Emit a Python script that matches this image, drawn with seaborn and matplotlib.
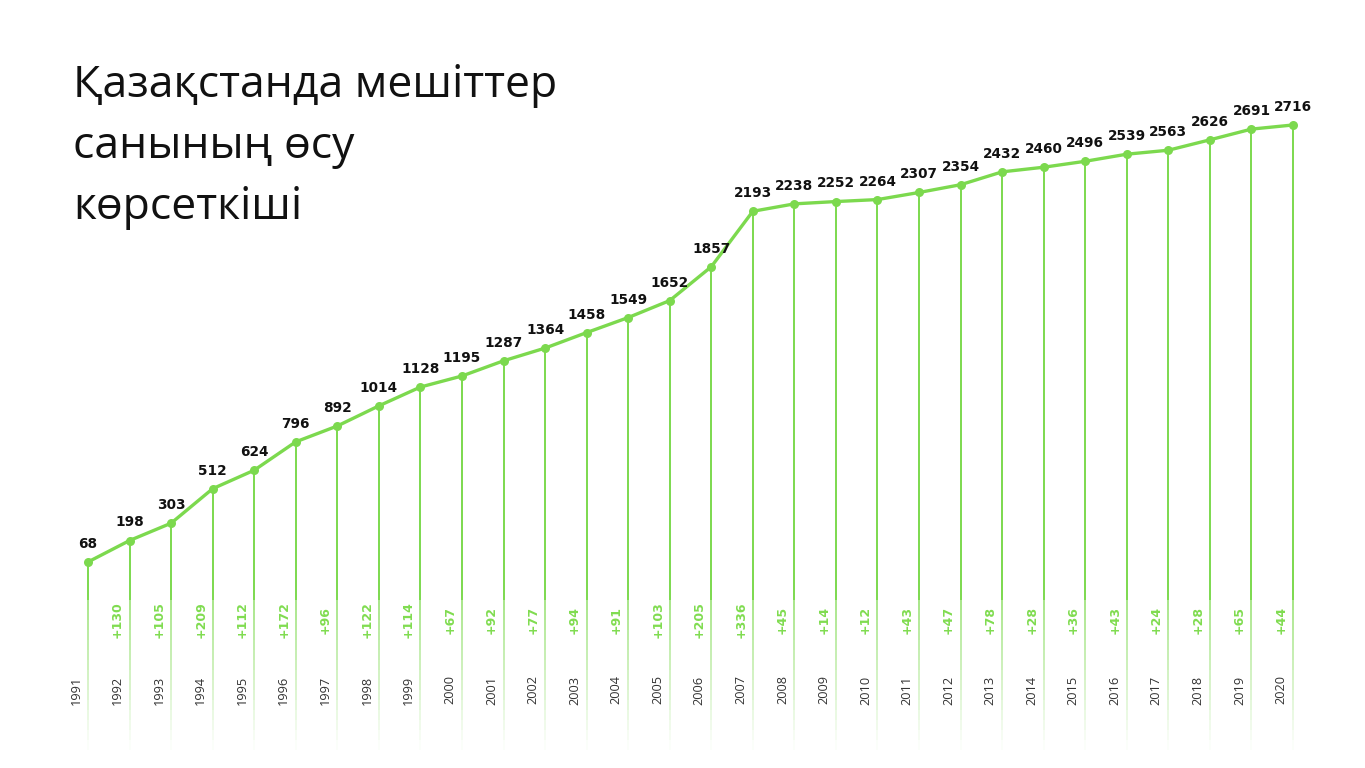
import matplotlib
matplotlib.use("Agg")
import matplotlib.pyplot as plt
import seaborn as sns
import pandas as pd
import numpy as np

years = list(range(1991, 2021))
mosques = [68, 198, 303, 512, 624, 796, 892, 1014, 1128, 1195, 1287, 1364, 1458,
           1549, 1652, 1857, 2193, 2238, 2252, 2264, 2307, 2354, 2432, 2460, 2496,
           2539, 2563, 2626, 2691, 2716]
increments = [130, 105, 209, 112, 172, 96, 122, 114, 67, 92, 77, 94, 91, 103, 205,
              336, 45, 14, 12, 43, 47, 78, 28, 36, 43, 24, 28, 65, 44]
title = "Қазақстанда мешіттер\nсанының өсу\nкөрсеткіші"

GREEN = "#7cd94e"
INC_GREEN = "#80dc50"

sns.set_theme(style="white")
plt.rcParams['font.family'] = ['Open Sans', 'DejaVu Sans']

df = pd.DataFrame({"year": years, "count": mosques})

W, H = 1365, 768
fig = plt.figure(figsize=(W / 100, H / 100), dpi=100)
ax = fig.add_axes([0, 0, 1, 1])

# pixel mapping helpers
x0px, x1px = 88, 1293
pxy = (x1px - x0px) / (years[-1] - years[0])
xl = years[0] - x0px / pxy
xr = years[-1] + (W - x1px) / pxy
zero_px = 573.2
scale = (562 - 125) / (2716 - 68)
def v_at(py):
    return (zero_px - py) / scale
ax.set_xlim(xl, xr)
ax.set_ylim(v_at(H), v_at(0))
ax.axis("off")

# vertical drop lines, solid then fading
for yr, v in zip(years, mosques):
    ax.vlines(yr, v_at(600), v, color=GREEN, lw=1.4, zorder=2)
    edges = np.linspace(600, 750, 16)
    for i in range(len(edges) - 1):
        a = 1 - (i + 0.5) / (len(edges) - 1)
        ax.vlines(yr, v_at(edges[i + 1]), v_at(edges[i]), color=GREEN,
                  lw=1.2, alpha=a * 0.8, zorder=2)

sns.lineplot(data=df, x="year", y="count", ax=ax, color=GREEN, lw=2.4,
             marker="o", markersize=6.5, markeredgewidth=0, zorder=3)

off = 12 / pxy
for yr, v in zip(years, mosques):
    ax.annotate(str(v), (yr, v), xytext=(0, 13), textcoords="offset points",
                ha="center", va="center", fontsize=9.8, fontweight="bold",
                color="#111111", family=["DejaVu Sans"])
    ax.text(yr - off, v_at(690), str(yr), rotation=90, ha="center", va="center",
            fontsize=9.2, color="#333333")
for yr, d in zip(years[1:], increments):
    ax.text(yr - off, v_at(620), f"+{d}", rotation=90, ha="center", va="center",
            fontsize=9, fontweight="bold", color=INC_GREEN, family=["DejaVu Sans"])

fig.text(73 / W, 1 - 64 / H, title, ha="left", va="top", fontsize=32,
         color="#111111", linespacing=1.48)

fig.savefig("out.png", dpi=100, facecolor="white")
